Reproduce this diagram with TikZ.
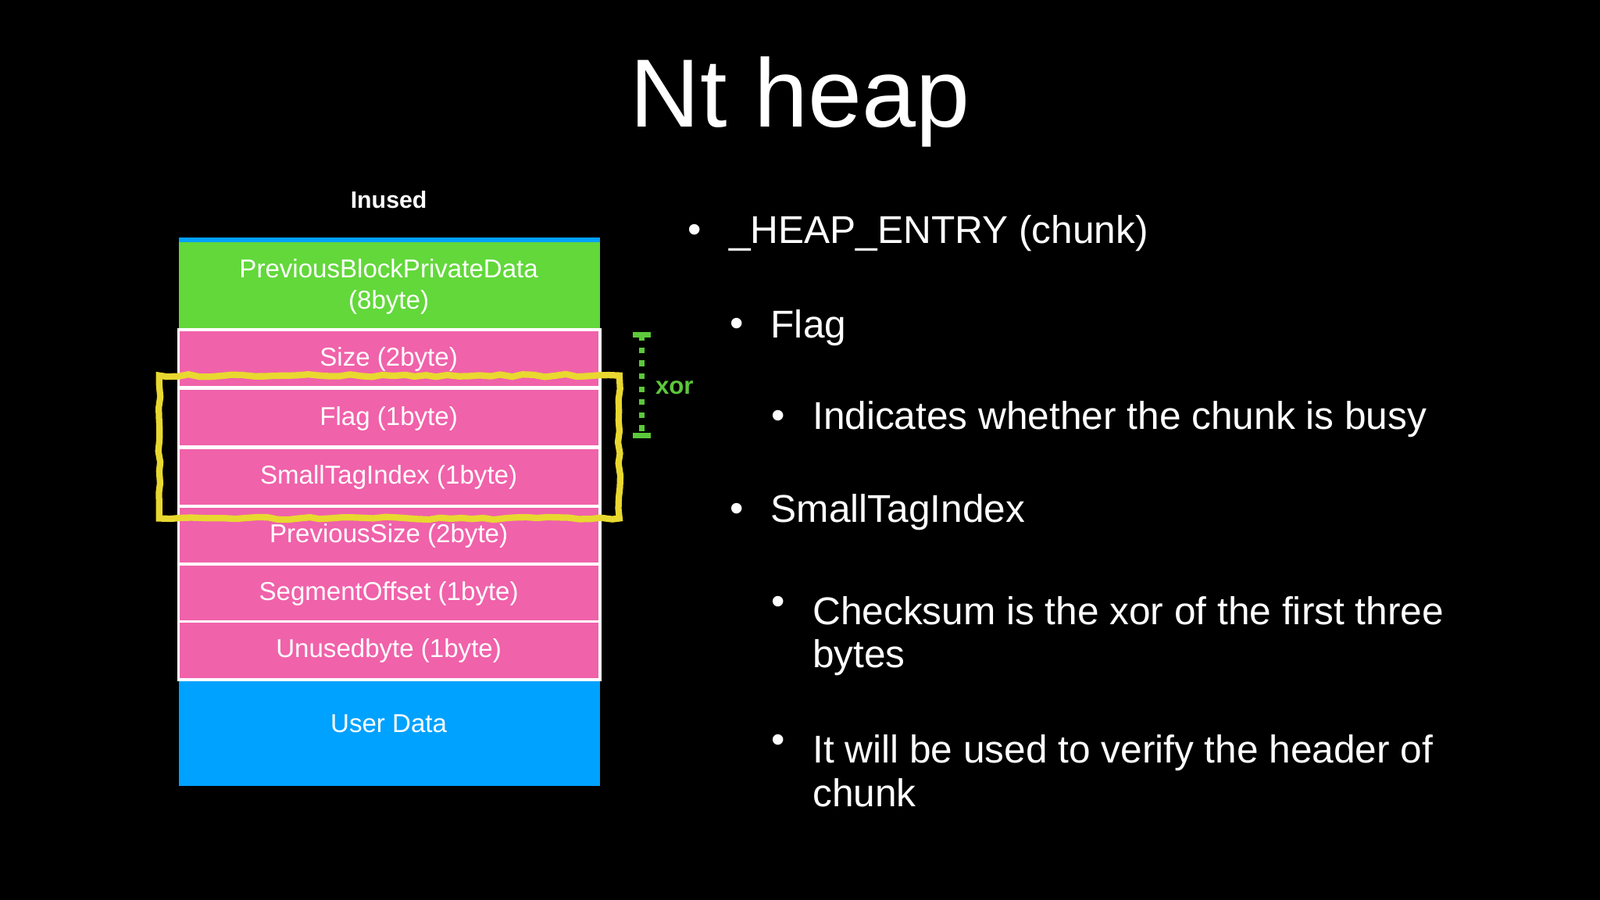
\documentclass[tikz,border=0pt]{standalone}
\usepackage{fontspec}
\setmainfont{Liberation Sans}
\usetikzlibrary{decorations.pathmorphing}
\definecolor{gr}{HTML}{62D83A}
\definecolor{pk}{HTML}{F062AA}
\definecolor{bl}{HTML}{00A2FF}
\definecolor{yl}{HTML}{E8D830}
\definecolor{xg}{HTML}{5CC83A}
\begin{document}
\begin{tikzpicture}[x=0.01cm,y=-0.01cm,
  cell/.style={draw=white,line width=0.8pt,fill=pk},
  celltxt/.style={text=white,font=\fontsize{7.2}{8.6}\selectfont,align=center},
  b1/.style={text=white,anchor=west,font=\fontsize{10.8}{13}\selectfont,align=left},
  dot/.style={text=white,font=\fontsize{10.8}{13}\selectfont}]
\fill[black] (0,0) rectangle (1568,882);
\node[text=white,font=\fontsize{27}{30}\selectfont] (title) at (784,100) {Nt heap};
\node[text=white,font=\bfseries\fontsize{6.6}{8}\selectfont] (inused) at (381,196) {Inused};
% cells
\fill[bl] (175,233) rectangle (588,237);
\fill[gr] (175,237) rectangle (588,323);
\node[celltxt] (c0) at (381,281) {PreviousBlockPrivateData\\(8byte)};
\foreach \t/\y [count=\i] in {Size (2byte)/323,Flag (1byte)/381,SmallTagIndex (1byte)/439,PreviousSize (2byte)/496,SegmentOffset (1byte)/553,Unusedbyte (1byte)/609}{
  \draw[cell] (175,\y) rectangle (588,\y+57);
  \node[celltxt] (c\i) at (381,\y+29) {\t};
}
\fill[bl] (175,666) rectangle (588,770);
\draw[white,line width=0.8pt] (175,666) -- (588,666);
\node[celltxt] (ud) at (381,709) {User Data};
% yellow highlight
\draw[yl,line width=1.8pt,decorate,decoration={random steps,segment length=3pt,amplitude=0.4pt}] (156,368) rectangle (607,508);
% xor bracket
\coordinate (xt) at (629,328);
\coordinate (xb) at (629,427);
\draw[xg,line width=1.6pt,dotted] (xt) -- (xb);
\draw[xg,line width=1.6pt] (620,328) -- (638,328) (620,427) -- (638,427);
\node[text=xg,font=\bfseries\fontsize{6.8}{8}\selectfont] (xor) at (661,380) {xor};
% bullets
\node[dot] (d1) at (681,229) {•};
\node[b1] (t1) at (702,229) {\_HEAP\_ENTRY (chunk)};
\node[dot] (d2) at (722,321) {•};
\node[b1] (t2) at (743,321) {Flag};
\node[dot] (d3) at (763,411) {•};
\node[b1] (t3) at (784,411) {Indicates whether the chunk is busy};
\node[dot] (d4) at (722,502) {•};
\node[b1] (t4) at (743,502) {SmallTagIndex};
\node[dot] (d5) at (763,593) {•};
\node[b1,anchor=north west] (t5) at (784,572) {Checksum is the xor of the first three\\[-1pt]bytes};
\node[dot] (d6) at (763,729) {•};
\node[b1,anchor=north west] (t6) at (784,708) {It will be used to verify the header of\\[-1pt]chunk};
\end{tikzpicture}
\end{document}
